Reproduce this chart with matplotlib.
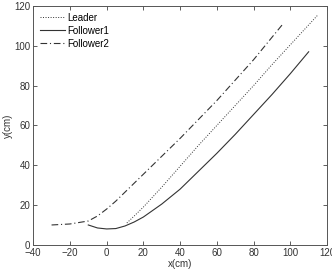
import matplotlib
matplotlib.use("Agg")
import matplotlib.pyplot as plt

plt.rcParams['font.family'] = ['Liberation Sans', 'DejaVu Sans']

# trajectories (cm)
leader_x = [11, 15, 20, 30, 40, 50, 60, 70, 80, 90, 100, 110, 115]
leader_y = [11, 14.5, 19, 29, 39.5, 50, 60, 70, 80, 90.5, 100.5, 110.5, 115.5]

f1_x = [-10, -5, 0, 5, 10, 15, 20, 30, 40, 50, 60, 70, 80, 90, 100, 110]
f1_y = [10, 8.5, 8, 8.2, 9.5, 11.5, 14, 20.5, 28, 37, 46, 55.5, 65.5, 75.5, 86, 97]

f2_x = [-30, -20, -10, -5, 0, 5, 10, 15, 20, 30, 40, 50, 60, 80, 96]
f2_y = [10, 10.5, 12, 14.5, 18, 22, 26.5, 31, 35.5, 44.5, 53.5, 63, 72.5, 93, 111]

fig = plt.figure(figsize=(3.32, 2.73), dpi=100)
ax = fig.add_axes([0.10, 0.103, 0.885, 0.875])

ax.plot(leader_x, leader_y, color='#333333', lw=0.7, dashes=(1, 1.6), label='Leader')
ax.plot(f1_x, f1_y, '-', color='#333333', lw=0.8, label='Follower1')
ax.plot(f2_x, f2_y, color='#333333', lw=0.8, dashes=(6, 2.5, 1, 2.5), label='Follower2')

ax.set_xlim(-40, 120)
ax.set_ylim(0, 120)
ax.set_xticks(range(-40, 121, 20))
ax.set_yticks(range(0, 121, 20))
ax.tick_params(direction='in', top=True, right=True, labelsize=7, length=3,
               width=0.6, colors='#444444', labelcolor='#333333', pad=2)
for s in ax.spines.values():
    s.set_linewidth(0.7)
    s.set_color('#555555')

ax.set_xlabel('x(cm)', fontsize=7, color='#333333', labelpad=1)
ax.set_ylabel('y(cm)', fontsize=7, color='#333333', labelpad=1)

ax.legend(loc='upper left', frameon=False, fontsize=7, handlelength=2.6,
          handletextpad=0.2, labelspacing=0.3, borderaxespad=0.3)

fig.savefig('out.png', dpi=100)
